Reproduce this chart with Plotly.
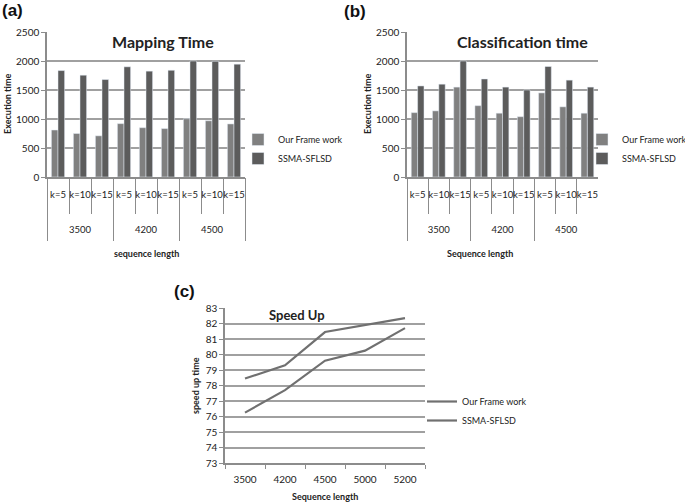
import plotly.graph_objects as go

# --- data -------------------------------------------------------------
seq_lengths = ["3500", "4200", "4500"]
k_values = ["k=5", "k=10", "k=15"]

# mapping time (a)
map_ours = [810, 750, 710, 920, 850, 835, 1005, 970, 915]
map_ssma = [1835, 1755, 1680, 1900, 1825, 1840, 2000, 1995, 1945]

# classification time (b)
cls_ours = [1110, 1140, 1550, 1230, 1100, 1040, 1450, 1210, 1100]
cls_ssma = [1570, 1600, 2000, 1690, 1550, 1500, 1905, 1670, 1550]

# speed up (c)
speed_x = ["3500", "4200", "4500", "5000", "5200"]
speed_ours = [78.45, 79.3, 81.45, 81.9, 82.35]
speed_ssma = [76.25, 77.7, 79.6, 80.25, 81.7]

C_OURS = "#808080"
C_SSMA = "#5c5c5c"
C_LINE = "#707070"
GRID = "#a0a0a0"
AXIS = "#8c8c8c"
FONT = "Lato"
TXT = "#222"

W, H = 685, 503


def px_x(v):
    return v / W


def px_y(v):
    return 1 - v / H


# one unique category per bar pair, shown with its k label only
bar_cats = [f"{g} {k}" for g in seq_lengths for k in k_values]
bar_ticktext = [k for _ in seq_lengths for k in k_values]

fig = go.Figure()

fig.add_trace(go.Bar(x=bar_cats, y=map_ours, name="Our Frame work", marker_color=C_OURS,
                     xaxis="x", yaxis="y", legend="legend"))
fig.add_trace(go.Bar(x=bar_cats, y=map_ssma, name="SSMA-SFLSD", marker_color=C_SSMA,
                     xaxis="x", yaxis="y", legend="legend"))
fig.add_trace(go.Bar(x=bar_cats, y=cls_ours, name="Our Frame work", marker_color=C_OURS,
                     xaxis="x2", yaxis="y2", legend="legend2"))
fig.add_trace(go.Bar(x=bar_cats, y=cls_ssma, name="SSMA-SFLSD", marker_color=C_SSMA,
                     xaxis="x2", yaxis="y2", legend="legend2"))
fig.add_trace(go.Scatter(x=speed_x, y=speed_ours, name="Our Frame work", mode="lines",
                         line=dict(color=C_LINE, width=2.2), xaxis="x3", yaxis="y3", legend="legend3"))
fig.add_trace(go.Scatter(x=speed_x, y=speed_ssma, name="SSMA-SFLSD", mode="lines",
                         line=dict(color=C_LINE, width=2.2), xaxis="x3", yaxis="y3", legend="legend3"))

# k level: category axis, ticks on boundaries act as the short dividers
bar_x = dict(type="category", tickmode="array", tickvals=bar_cats, ticktext=bar_ticktext,
             showline=True, linecolor=AXIS, linewidth=1.5, ticks="outside", tickson="boundaries",
             ticklen=35, tickcolor=AXIS, tickwidth=1, tickangle=0, ticklabelstandoff=8,
             tickfont=dict(family=FONT, size=9.5, color=TXT), showgrid=False)
# sequence-length level: overlaid category axis with long boundary ticks
grp_x = dict(type="category", categoryorder="array", categoryarray=seq_lengths, range=[-0.5, 2.5],
             side="bottom", showline=False, ticks="outside", tickson="boundaries", ticklen=63,
             tickcolor=AXIS, tickwidth=1, tickangle=0, ticklabelstandoff=45, showgrid=False,
             tickfont=dict(family=FONT, size=9.5, color=TXT))
bar_y = dict(range=[0, 2500], dtick=500, showgrid=True, gridcolor=GRID, gridwidth=1.5,
             showline=True, linecolor=AXIS, linewidth=1.5, ticks="outside", ticklen=4,
             tickcolor=AXIS, tickfont=dict(family=FONT, size=10, color=TXT), zeroline=False)

leg = dict(bgcolor="rgba(0,0,0,0)", font=dict(family=FONT, size=9, color=TXT),
           itemwidth=30, tracegroupgap=6, xanchor="left", yanchor="top")

fig.update_layout(
    width=W, height=H, margin=dict(l=0, r=0, t=0, b=0, autoexpand=False),
    paper_bgcolor="white", plot_bgcolor="white",
    bargap=0.4, bargroupgap=0,
    xaxis=dict(domain=[px_x(47), px_x(245)], anchor="y", **bar_x),
    yaxis=dict(domain=[px_y(177), px_y(32)], anchor="x", **bar_y),
    xaxis4=dict(domain=[px_x(47), px_x(245)], anchor="y", overlaying="x", **grp_x),
    xaxis2=dict(domain=[px_x(407), px_x(598)], anchor="y2", **bar_x),
    yaxis2=dict(domain=[px_y(177), px_y(32)], anchor="x2", **bar_y),
    xaxis5=dict(domain=[px_x(407), px_x(598)], anchor="y2", overlaying="x2", **grp_x),
    xaxis3=dict(domain=[px_x(225), px_x(425)], anchor="y3", range=[-0.5, 4.5], showline=True,
                linecolor=AXIS, linewidth=1.5, ticks="outside", tickson="boundaries", ticklen=4,
                tickcolor=AXIS, showgrid=False, ticklabelstandoff=6,
                tickfont=dict(family=FONT, size=10, color=TXT)),
    yaxis3=dict(domain=[px_y(463), px_y(308)], anchor="x3", range=[73, 83], dtick=1,
                showgrid=True, gridcolor=GRID, gridwidth=1.5, showline=True, linecolor=AXIS,
                linewidth=1.5, ticks="outside", ticklen=4, tickcolor=AXIS, zeroline=False,
                tickfont=dict(family=FONT, size=10, color=TXT)),
    legend=dict(x=px_x(238), y=px_y(125), **leg),
    legend2=dict(x=px_x(582), y=px_y(125), **leg),
    legend3=dict(x=px_x(422), y=px_y(387), **leg),
)

# group-level axes need a trace each so they get drawn
fig.add_trace(go.Scatter(x=seq_lengths, y=[None] * len(seq_lengths), xaxis="x4", yaxis="y",
                         showlegend=False, hoverinfo="skip"))
fig.add_trace(go.Scatter(x=seq_lengths, y=[None] * len(seq_lengths), xaxis="x5", yaxis="y2",
                         showlegend=False, hoverinfo="skip"))

ann = []


def note(text, x, y, size, bold=False, angle=0, xanchor="center", family=FONT, color=TXT):
    ann.append(dict(text=f"<b>{text}</b>" if bold else text, x=px_x(x), y=px_y(y), xref="paper", yref="paper",
                    showarrow=False, textangle=angle, xanchor=xanchor, yanchor="middle",
                    font=dict(family=family, size=size, color=color)))


# panel letters
note("(a)", 0, 11, 17, bold=True, xanchor="left", family="Liberation Sans", color="#111")
note("(b)", 342, 12, 17, bold=True, xanchor="left", family="Liberation Sans", color="#111")
note("(c)", 172, 291, 17, bold=True, xanchor="left", family="Liberation Sans", color="#111")
# chart titles
note("Mapping Time", 163, 42, 16, bold=True)
note("Classification time", 522, 42, 16, bold=True)
note("Speed Up", 267, 315, 13, bold=True, xanchor="left")
# axis titles
note("Execution time", 8, 104, 9, bold=True, angle=-90)
note("Execution time", 368, 104, 9, bold=True, angle=-90)
note("speed up time", 195, 386, 9, bold=True, angle=-90)
note("sequence length", 146, 253, 9, bold=True)
note("Sequence length", 480, 253, 9, bold=True)
note("Sequence length", 325, 496, 9, bold=True)

fig.update_layout(annotations=ann)

# page body has a default 8px margin; drop it so the figure sits at the corner
fig.write_html("out.html", config={"displayModeBar": False},
               post_script="document.body.style.margin='0';")
